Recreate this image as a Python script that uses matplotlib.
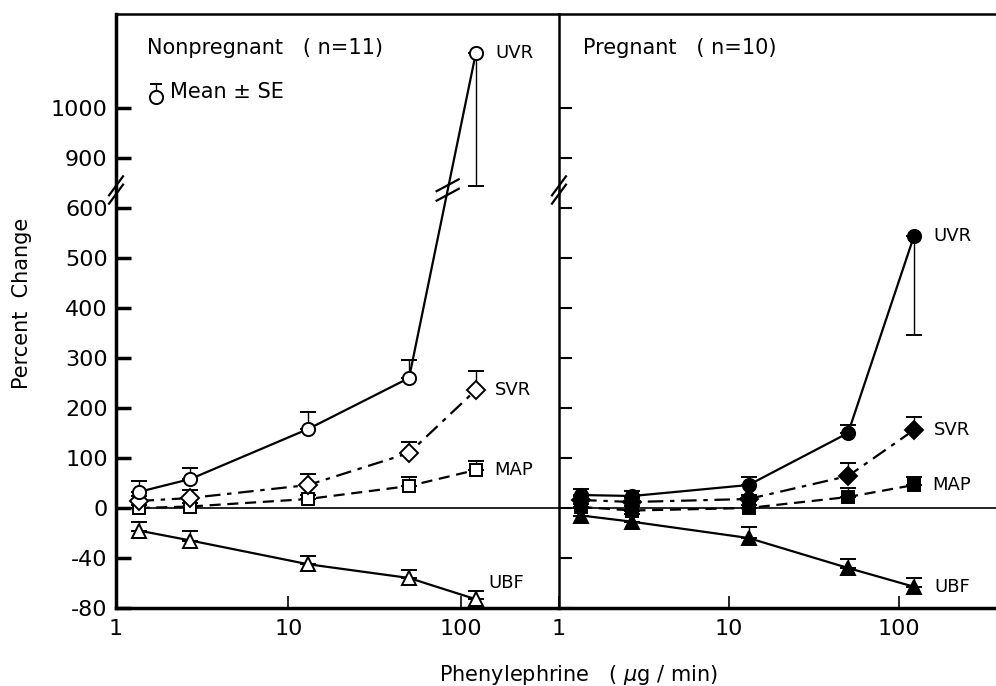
import numpy as np
import matplotlib
matplotlib.use('Agg')
import matplotlib.pyplot as plt
from matplotlib.ticker import FixedLocator, NullLocator

plt.rcParams['font.family'] = 'DejaVu Sans'
plt.rcParams['axes.unicode_minus'] = False

# phenylephrine dose (ug/min)
dose = [1.35, 2.7, 13, 50, 122]

# nonpregnant (n=11): mean and SE (lower, upper)
np_uvr = [32, 58, 158, 260, 1110]
np_uvr_lo = [0, 0, 0, 0, 378]
np_uvr_hi = [22, 22, 34, 36, 0]
np_svr = [14, 20, 46, 110, 236]
np_svr_hi = [10, 16, 22, 22, 38]
np_map = [0, 3, 18, 44, 76]
np_map_hi = [6, 8, 8, 18, 18]
np_ubf = [-18, -26, -45, -56, -73]
np_ubf_hi = [7, 8, 7, 6.5, 7]

# pregnant (n=10)
pg_uvr = [26, 24, 46, 150, 544]
pg_uvr_lo = [0, 0, 0, 0, 198]
pg_uvr_hi = [12, 10, 16, 16, 0]
pg_svr = [16, 12, 18, 64, 156]
pg_svr_hi = [8, 8, 8, 26, 26]
pg_map = [2, -2, 0, 22, 46]
pg_map_hi = [6, 6, 6, 18, 16]
pg_ubf = [-6, -11, -24, -48, -63]
pg_ubf_hi = [6, 6, 9, 7, 7]

yticks = [-80, -40, 0, 100, 200, 300, 400, 500, 600, 900, 1000]


# broken y axis: 40 per unit below zero, 100 per unit above,
# 600..900 squeezed into one unit
def fwd(v):
    v = np.asarray(v, float)
    return np.where(v < 0, v / 40,
                    np.where(v <= 600, v / 100,
                             np.where(v < 900, 6 + (v - 600) / 300,
                                      (v - 200) / 100)))


def inv(u):
    u = np.asarray(u, float)
    return np.where(u < 0, u * 40,
                    np.where(u <= 6, u * 100,
                             np.where(u < 7, 600 + (u - 6) * 300,
                                      u * 100 + 200)))


fig = plt.figure(figsize=(9.96, 6.86), dpi=100)
ax1 = fig.add_axes([0.1165, 0.1137, 0.4447, 0.8659])
ax2 = fig.add_axes([0.5612, 0.1137, 0.4388, 0.8659])


def draw_series(ax, y, lo, hi, marker, ls, filled, ms):
    ax.errorbar(dose, y, yerr=[lo, hi], fmt='none', ecolor='k',
                elinewidth=1.0, capsize=6, capthick=1.4, zorder=2)
    ax.plot(dose, y, color='k', ls=ls, lw=1.6, zorder=2.5)
    ax.plot(dose, y, ls='none', marker=marker, ms=ms, mec='k', mew=1.4,
            mfc='k' if filled else 'white', zorder=3)


dashdot = (0, (7, 3, 2, 3))
dash = (0, (5, 3))
zeros = [0] * 5

for ax, filled, series in [
        (ax1, False, [(np_uvr, np_uvr_lo, np_uvr_hi), (np_svr, zeros, np_svr_hi),
                      (np_map, zeros, np_map_hi), (np_ubf, zeros, np_ubf_hi)]),
        (ax2, True, [(pg_uvr, pg_uvr_lo, pg_uvr_hi), (pg_svr, zeros, pg_svr_hi),
                     (pg_map, zeros, pg_map_hi), (pg_ubf, zeros, pg_ubf_hi)])]:
    (uvr, uvr_lo, uvr_hi), (svr, _, svr_hi), (mp, _, mp_hi), (ubf, _, ubf_hi) = series
    draw_series(ax, ubf, zeros, ubf_hi, '^', '-', filled, 10.5)
    draw_series(ax, mp, zeros, mp_hi, 's', dash, filled, 9)
    draw_series(ax, svr, zeros, svr_hi, 'D', dashdot, filled, 9.5)
    draw_series(ax, uvr, uvr_lo, uvr_hi, 'o', '-', filled, 9.5)
    ax.axhline(0, color='k', lw=1.2, zorder=1)

    ax.set_xscale('log')
    ax.set_xlim(1, 370)
    ax.set_yscale('function', functions=(fwd, inv))
    ax.set_ylim(-80, 1188)
    ax.xaxis.set_major_locator(FixedLocator([1, 10, 100]))
    ax.xaxis.set_minor_locator(NullLocator())
    ax.set_xticklabels(['1', '10', '100'])
    ax.yaxis.set_major_locator(FixedLocator(yticks))
    ax.yaxis.set_minor_locator(NullLocator())
    ax.tick_params(axis='x', direction='in', length=9, width=1.2,
                   labelsize=16, pad=8)
    ax.spines['right'].set_visible(False)
    ax.spines['top'].set_linewidth(1.8)
    ax.spines['bottom'].set_linewidth(2.5)

    # labels at the last point of each series
    for txt, yy, off in [('UVR', uvr[-1], (14, 0)), ('SVR', svr[-1], (14, 0)),
                         ('MAP', mp[-1], (13, 0)),
                         ('UBF', ubf[-1], (9 if not filled else 15,
                                           12 if not filled else 0))]:
        ax.annotate(txt, xy=(dose[-1], yy), xytext=off, textcoords='offset points',
                    va='center', ha='left', fontsize=13)

ax1.set_yticklabels([str(t) for t in yticks])
ax1.tick_params(axis='y', direction='in', length=11, width=2.5,
                labelsize=16, pad=6)
ax1.spines['left'].set_linewidth(2.5)
ax2.tick_params(axis='y', direction='in', length=9, width=1.5, labelleft=False)
ax2.spines['left'].set_linewidth(1.8)

ax1.set_ylabel('Percent  Change', fontsize=15)
ax1.yaxis.set_label_coords(-0.19, 0.512)
fig.text(0.581, 0.016, r'Phenylephrine   ( $\mu$g / min)', fontsize=15,
         ha='center', va='center')

ax1.text(0.07, 0.943, 'Nonpregnant   ( n=11)', transform=ax1.transAxes,
         fontsize=15, va='center')
ax2.text(0.055, 0.943, 'Pregnant   ( n=10)', transform=ax2.transAxes,
         fontsize=15, va='center')

# "Mean +/- SE" key
ax1.plot([0.090, 0.090], [0.860, 0.882], color='k', lw=1.0,
         transform=ax1.transAxes)
ax1.plot([0.078, 0.102], [0.882, 0.882], color='k', lw=1.4,
         transform=ax1.transAxes)
ax1.plot([0.090], [0.860], marker='o', ms=9.5, mfc='white', mec='k', mew=1.4,
         transform=ax1.transAxes, zorder=4)
ax1.text(0.122, 0.869, 'Mean ± SE', transform=ax1.transAxes, fontsize=15,
         va='center')

# break marks on the y spines
ybrk = (6.36 + 2) / 11.88
for ax, w in [(ax1, 443), (ax2, 437)]:
    for dy in (-0.007, 0.007):
        ax.plot([-7 / w, 7 / w], [ybrk + dy - 0.016, ybrk + dy + 0.016],
                color='k', lw=1.6, transform=ax.transAxes, clip_on=False,
                zorder=5)

# break marks on the nonpregnant UVR line
p0 = ax1.transAxes.inverted().transform(ax1.transData.transform((dose[3], np_uvr[3])))
p1 = ax1.transAxes.inverted().transform(ax1.transData.transform((dose[4], np_uvr[4])))
t = (ybrk - p0[1]) / (p1[1] - p0[1])
bx, by = p0 + t * (p1 - p0)
for dy in (-0.008, 0.008):
    ax1.plot([bx - 0.025, bx + 0.025], [by + dy - 0.01, by + dy + 0.01],
             color='k', lw=1.6, transform=ax1.transAxes, zorder=5)

fig.savefig('out.png', dpi=100)
